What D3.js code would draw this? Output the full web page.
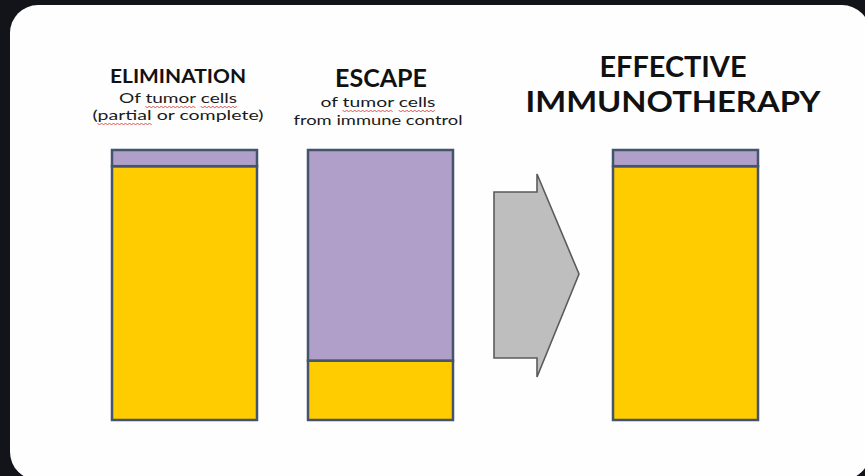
<!DOCTYPE html>
<html>
<head>
<meta charset="utf-8">
<script src="https://cdn.jsdelivr.net/npm/d3@7/dist/d3.min.js"></script>
<style>
  html, body { margin: 0; padding: 0; background: #131419; }
  svg { display: block; }
</style>
</head>
<body>
<svg id="chart" width="865" height="476"></svg>
<script>
// Stages of tumour / immune balance
const stages = ["elimination", "escape", "immunotherapy"];
// Share of each column (percent): immune-controlled (top) vs tumour (bottom)
const immuneShare = [6, 78, 6];
const tumorShare = [94, 22, 94];

// Heading lines for each stage
const titleLines = [["ELIMINATION"], ["ESCAPE"], ["EFFECTIVE", "IMMUNOTHERAPY"]];
const subtitleLines = [["Of tumor cells", "(partial or complete)"], ["of tumor cells", "from immune control"], []];
// Words flagged by the spell-checker underline
const flaggedWords = ["tumor", "cells", "partial"];

const svg = d3.select("#chart");

// White rounded slide panel
svg.append("rect")
  .attr("x", 10).attr("y", 5)
  .attr("width", 860).attr("height", 475)
  .attr("rx", 28).attr("ry", 28)
  .attr("fill", "#fefefe");

const colX = d3.scaleOrdinal().domain(stages).range([112, 308, 613]);
const barW = 145;
const y = d3.scaleLinear().domain([0, 100]).range([420, 150]);

const cols = stages.map((s, i) => ({ stage: s, immune: immuneShare[i], tumor: tumorShare[i] }));

const bars = svg.append("g").selectAll("g").data(cols).join("g");

// tumour part (bottom, yellow)
bars.append("rect")
  .attr("x", d => colX(d.stage))
  .attr("y", d => y(d.tumor))
  .attr("width", barW)
  .attr("height", d => y(0) - y(d.tumor))
  .attr("fill", "#ffcc00")
  .attr("stroke", "#44546c").attr("stroke-width", 2.5);

// immune part (top, lavender)
bars.append("rect")
  .attr("x", d => colX(d.stage))
  .attr("y", d => y(d.tumor + d.immune))
  .attr("width", barW)
  .attr("height", d => y(d.tumor) - y(d.tumor + d.immune))
  .attr("fill", "#b09fc8")
  .attr("stroke", "#44546c").attr("stroke-width", 2.5);

// Transition arrow between escape and immunotherapy
const ax0 = 494, ax1 = 537, axTip = 579;
const arrowPts = [
  [ax0, 192], [ax1, 192], [ax1, 174], [axTip, 274],
  [ax1, 377], [ax1, 358], [ax0, 358]
];
svg.append("path")
  .attr("d", d3.line()(arrowPts) + "Z")
  .attr("fill", "#bebebe")
  .attr("stroke", "#5b5b5b")
  .attr("stroke-width", 1.6)
  .attr("stroke-linejoin", "miter");

// Headings
const font = "Lato, 'Open Sans', sans-serif";
const titleSpec = [
  { cx: 178, base: [83], size: 19, len: [136] },
  { cx: 381, base: [87], size: 24, len: [92] },
  { cx: 673, base: [77, 112], size: 29, len: [147, 295] }
];
const subSpec = [
  { cx: 178, base: [103, 120], size: 14, len: [118, 171] },
  { cx: 378, base: [107, 125], size: 14, len: [115, 169] },
  { cx: 673, base: [], size: 14, len: [] }
];

const textEls = [];
titleLines.forEach((lines, i) => {
  lines.forEach((t, k) => {
    svg.append("text")
      .attr("x", titleSpec[i].cx).attr("y", titleSpec[i].base[k])
      .attr("text-anchor", "middle")
      .attr("font-family", font).attr("font-weight", 700)
      .attr("font-size", titleSpec[i].size)
      .attr("fill", "#111")
      .attr("textLength", titleSpec[i].len[k]).attr("lengthAdjust", "spacingAndGlyphs")
      .text(t);
  });
});
subtitleLines.forEach((lines, i) => {
  lines.forEach((t, k) => {
    const el = svg.append("text")
      .attr("x", subSpec[i].cx).attr("y", subSpec[i].base[k])
      .attr("text-anchor", "middle")
      .attr("font-family", font).attr("font-weight", 400)
      .attr("font-size", subSpec[i].size)
      .attr("fill", "#1a1a1a")
      .attr("textLength", subSpec[i].len[k]).attr("lengthAdjust", "spacingAndGlyphs")
      .text(t);
    textEls.push({ el, text: t, base: subSpec[i].base[k] });
  });
});

// Red wavy spell-check underlines below flagged words
function wavy(xa, xb, yy) {
  const pts = [];
  let up = true;
  for (let x = xa; x <= xb; x += 2) { pts.push([x, yy + (up ? -1 : 1)]); up = !up; }
  return d3.line()(pts);
}
textEls.forEach(({ el, text, base }) => {
  const node = el.node();
  flaggedWords.forEach(w => {
    const idx = text.indexOf(w);
    if (idx < 0) return;
    const xs = node.getStartPositionOfChar(idx).x;
    const xe = node.getEndPositionOfChar(idx + w.length - 1).x;
    svg.append("path")
      .attr("d", wavy(xs, xe, base + 4))
      .attr("fill", "none")
      .attr("stroke", "#e0403a")
      .attr("stroke-width", 0.9);
  });
});
</script>
</body>
</html>
